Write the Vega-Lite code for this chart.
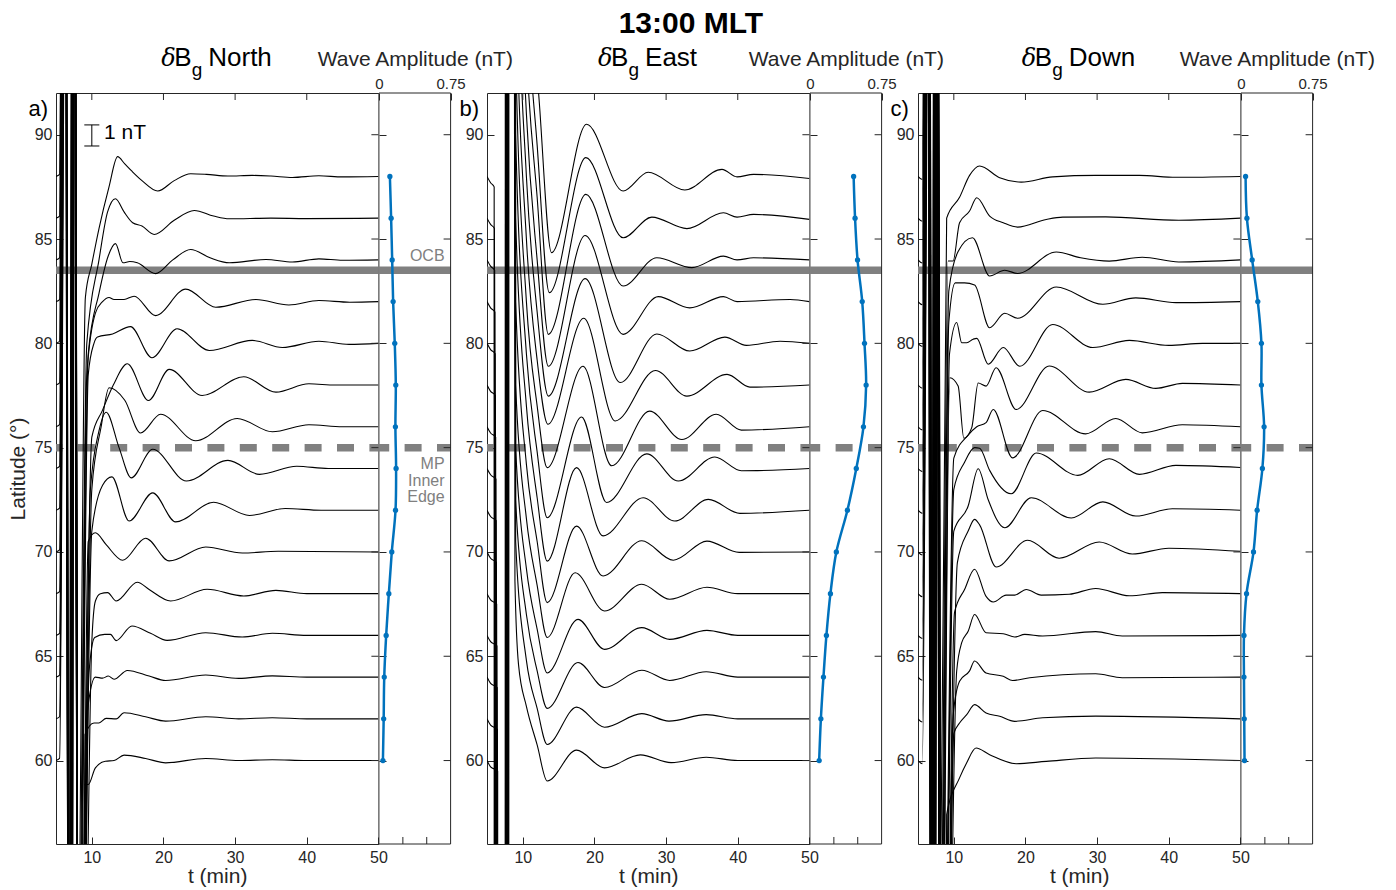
{
"$schema": "https://vega.github.io/schema/vega-lite/v6.json",
"padding": {"left": 6, "top": 8, "right": 2, "bottom": 2},
"title": {"text": "13:00 MLT", "fontSize": 30, "fontWeight": "bold", "color": "black", "anchor": "middle", "offset": 6, "font": "Liberation Sans"},
"bounds": "flush",
"spacing": 0,
"datasets": {
"xt": [{"t":10},{"t":20},{"t":30},{"t":40}],
"yt": [{"lat":60},{"lat":65},{"lat":70},{"lat":75},{"lat":80},{"lat":85},{"lat":90}],
"at": [{"a":0.25},{"a":0.5}],
"tr": [
{"p":"a","lat":88,"t":[5,5.5,6.1,6.75,7.4,8.0,9.1,10,11,12.4,13.6,14.6,15.6,17.0,19.2,21.5,23.8,26,29,32.4,35,38,41.7,45,50],"v":[88,88.1,133,43,128,48,82.2,83.8,85.5,87.5,88.95,88.6,88.25,87.8,87.3,87.8,88.13,88.1,88.02,88.05,88.02,87.95,88.03,87.98,88]},
{"p":"a","lat":86,"t":[5,5.5,6.12,6.77,7.42,8.02,9.3,11,12.2,13.3,14.5,15.7,17,18.7,21.5,24.3,27,29.2,35,40,50],"v":[86,86.1,131,41,126,46,80,84,86.3,86.93,86.3,85.78,85.62,85.22,85.9,86.37,86.1,85.97,86,85.98,86]},
{"p":"a","lat":84,"t":[5,5.5,6.14,6.79,7.44,8.04,9.5,11,12.3,13.3,14.35,15.3,16.35,18.9,21.3,23.8,26.5,29.2,34.3,38,41.7,45,50],"v":[84,84.1,129,39,124,44,79.5,82.4,84.2,84.78,83.86,83.92,83.86,83.34,84,84.5,84.1,83.86,84.02,83.9,84.05,83.98,84]},
{"p":"a","lat":82,"t":[5,5.5,6.16,6.81,7.46,8.06,9.3,10.5,11.5,12.4,13.1,14.5,15.9,18.9,23.1,27.3,32.9,37.5,41.7,46,50],"v":[82,82.1,127,37,122,42,78.5,81.45,82,82.2,82.1,82.1,82.26,81.33,82.6,81.73,82.1,81.84,82.05,81.97,82]},
{"p":"a","lat":80,"t":[5,5.5,6.18,6.83,7.48,8.08,9.5,10.3,10.8,12.9,15.4,18.4,21.9,26.4,32.4,36.6,41.7,45.9,50],"v":[80,80.1,125,35,120,40,78.5,80,80.3,80.45,80.8,79.31,80.7,79.66,80.14,79.8,80.1,79.95,80]},
{"p":"a","lat":78,"t":[5,5.5,6.2,6.85,7.5,8.1,10,11.5,13,14.96,17.9,20.8,25.4,31.2,35.7,40.3,44,50],"v":[78,78.1,123,33,118,38,75.5,76.8,78,79.02,77.26,78.75,77.5,78.4,77.66,78.06,78,78]},
{"p":"a","lat":76,"t":[5,5.5,6.22,6.87,7.52,8.12,10,11.3,12.4,14.6,16.8,19.6,24.5,30.3,35.2,40.3,45,50],"v":[76,76.1,121,31,116,36,73,76,77.87,77.27,75.7,76.6,75.33,76.4,75.76,76.1,76,76]},
{"p":"a","lat":74,"t":[5,5.5,6.24,6.89,7.54,8.14,9.8,11,12,13.8,15.5,18.5,23.2,29,33.4,38.6,43,50],"v":[74,74.1,119,29,114,34,73,75.8,76.7,75,73.55,74.92,73.4,74.39,73.72,74.11,74,74]},
{"p":"a","lat":72,"t":[5,5.5,6.26,6.91,7.56,8.16,10,11.5,12.8,15.2,18.5,21.7,27,32,37,42,50],"v":[72,72.1,117,27,112,32,71,73.2,73.6,71.48,72.83,71.44,72.38,71.75,72.08,72,72]},
{"p":"a","lat":70,"t":[5,5.5,6.28,6.93,7.58,8.18,9.5,10.5,12,14.3,17.5,20.8,25.9,31,36,50],"v":[70,70.1,115,25,110,30,70.5,70.92,70.35,69.6,70.66,69.57,70.24,69.95,70.03,70]},
{"p":"a","lat":68,"t":[5,5.5,6.3,6.95,7.6,8.2,10,10.5,11.2,12.2,13.4,16.35,18,21,26.1,31.2,35.7,40,50],"v":[68,68.1,113,23,108,28,65.7,67.65,68,68.05,67.65,68.55,68.2,67.65,68.21,67.89,68.16,68,68]},
{"p":"a","lat":66,"t":[5,5.5,6.32,6.97,7.62,8.22,9.6,10.4,11.8,12.6,13.4,15.6,18.2,20.5,25.9,31,35.2,40,50],"v":[66,66.1,111,21,106,26,64.2,65.9,66.05,66.05,65.75,66.45,66.1,65.76,66.13,65.92,66.1,66,66]},
{"p":"a","lat":64,"t":[5,5.5,6.34,6.99,7.64,8.24,9.4,10.5,11.5,12.3,13.1,14.96,18,20.3,25.9,30.5,35.2,40,50],"v":[64,64.1,109,19,104,24,62.4,64,63.95,64.05,63.9,64.32,64.05,63.84,64.1,63.94,64.06,64,64]},
{"p":"a","lat":62,"t":[5,5.5,6.36,7.01,7.66,8.26,9.05,10.3,11,12,13.4,14.5,17.5,20.3,25.9,30.5,35.2,40,50],"v":[62,62.1,107,17,102,22,61.25,61.8,61.8,62.02,62,62.29,62.1,61.89,62.1,62,62.05,62,62]},
{"p":"a","lat":60,"t":[5,5.5,6.38,7.03,7.68,8.28,9.0,9.5,10.5,11.9,13.1,14.5,17.5,20.3,25.9,30.5,35.2,40,50],"v":[60,60.1,105,15,100,20,58.85,58.85,59.65,59.97,60,60.26,60.1,59.89,60.1,60,60.04,60,60]},
{"p":"b","lat":88,"t":[5,5.5,6.0,6.1,7.5,7.6,9.0,10.5,12.2,14.0,18.9,24.0,27.5,32.6,37.8,39.9,42.2,50],"v":[88,87.7,87.5,-212,-212,388,118,99,92,84.35,90.5,87.3,88.2,87.35,88.34,87.98,88.1,87.9]},
{"p":"b","lat":86,"t":[5,5.5,6.035,6.135,7.535,7.635,9.0,10.5,12.0,13.7,18.8,24.0,28.0,32.9,38.0,39.9,42.2,50],"v":[86,85.7,85.5,-214,-214,386,114,97,89.5,82.43,88.9,85.06,86.05,85.5,86.26,86.05,86.18,85.94]},
{"p":"b","lat":84,"t":[5,5.5,6.07,6.17,7.57,7.67,9.0,10.5,12.0,13.56,18.8,24.0,28.7,33.6,38.0,39.9,42.2,50],"v":[84,83.7,83.5,-216,-216,384,110,94,87,80.43,87.14,82.75,84.1,83.63,84.18,84,84.1,84]},
{"p":"b","lat":82,"t":[5,5.5,6.105,6.205,7.605,7.705,9.0,10.5,12.0,13.56,18.7,24.0,28.9,33.3,38.0,39.9,47.3,50],"v":[82,81.7,81.5,-218,-218,382,106,91,84,78.9,85.17,80.43,82.24,81.7,82.24,82,82.1,82]},
{"p":"b","lat":80,"t":[5,5.5,6.14,6.24,7.64,7.74,9.0,10.5,12.0,13.56,18.7,23.6,28.7,33.3,38.2,41.2,45.9,50],"v":[80,79.7,79.5,-220,-220,380,102,88,81.5,77.47,83.1,78.12,80.45,79.63,80.3,79.9,80.1,80]},
{"p":"b","lat":78,"t":[5,5.5,6.175,6.275,7.675,7.775,9.0,10.5,12.0,13.5,18.5,22.9,28.5,32.9,38.5,41.7,50],"v":[78,77.7,77.5,-222,-222,378,98,85,79.2,76.12,81.2,76.28,78.7,77.47,78.51,77.9,78]},
{"p":"b","lat":76,"t":[5,5.5,6.21,6.31,7.71,7.81,9.0,10.5,12.0,13.4,18.4,22.4,27.7,32.2,37.0,40.5,50],"v":[76,75.7,75.5,-224,-224,376,94,82,77,74.04,78.9,74.13,76.75,75.39,76.6,75.84,76]},
{"p":"b","lat":74,"t":[5,5.5,6.245,6.345,7.745,7.845,9.0,10.5,12.0,13.4,18.2,21.7,27.3,31.7,36.8,40.5,50],"v":[74,73.7,73.5,-226,-226,374,90,79.5,74.8,71.64,76.47,72.37,74.7,73.4,74.55,73.89,74]},
{"p":"b","lat":72,"t":[5,5.5,6.28,6.38,7.78,7.88,9.0,10.5,12.0,13.4,17.5,21.2,26.8,31.2,35.9,40.3,50],"v":[72,71.7,71.5,-228,-228,372,86,77,72.6,69.56,74.04,70.77,72.6,71.48,72.52,71.85,72]},
{"p":"b","lat":70,"t":[5,5.5,6.315,6.415,7.815,7.915,9.0,10.5,12.0,13.4,17.5,21.2,26.6,31.0,35.7,40.2,50],"v":[70,69.7,69.5,-230,-230,370,82,74.2,70.5,67.57,71.24,68.85,70.54,69.6,70.52,69.98,70]},
{"p":"b","lat":68,"t":[5,5.5,6.35,6.45,7.85,7.95,9.0,10.5,12.0,13.4,17.3,21.4,26.6,30.5,35.7,40,50],"v":[68,67.7,67.5,-232,-232,368,78,71.6,68.4,65.9,69.0,67.17,68.45,67.73,68.31,68,68]},
{"p":"b","lat":66,"t":[5,5.5,6.385,6.485,7.885,7.985,9.0,10.5,12.0,13.4,17.7,21.4,26.6,30.5,35.7,40,50],"v":[66,65.7,65.5,-234,-234,366,75,69.2,66.3,64.2,66.77,65.33,66.37,65.81,66.24,66,66]},
{"p":"b","lat":64,"t":[5,5.5,6.42,6.52,7.92,8.02,9.0,10.5,12.0,13.4,17.7,21.4,26.6,30.5,35.6,40,50],"v":[64,63.7,63.5,-236,-236,364,72.5,67,64.3,62.5,64.7,63.5,64.33,63.84,64.26,64,64]},
{"p":"b","lat":62,"t":[5,5.5,6.455,6.555,7.955,8.055,9.0,10.5,12.0,13.4,17.5,21.4,26.6,30.4,35.6,40,50],"v":[62,61.7,61.5,-238,-238,362,70.5,64.8,62.5,60.77,62.56,61.6,62.25,61.89,62.2,62,62]},
{"p":"b","lat":60,"t":[5,5.5,6.49,6.59,7.99,8.09,8.9,9.4,10.5,12.0,13.4,17.5,21.4,26.4,30.7,35.6,40,50],"v":[60,59.7,59.5,-240,-240,360,68.6,64.6,62.6,60.75,59.02,60.5,59.65,60.27,59.9,60.16,60,60]},
{"p":"c","lat":88,"t":[5,5.6,6.2,6.8,7.4,8.0,9.0,10.8,12.2,13.6,16.4,19.4,23.8,29.8,35.9,41,50],"v":[88,87.85,133,43,128,48,86,87,88.05,88.5,87.94,87.73,87.98,88.05,88.05,87.96,88]},
{"p":"c","lat":86,"t":[5,5.6,6.23,6.83,7.43,8.03,9.2,9.9,10.8,12.2,13.2,15.0,16.9,18.9,22.9,25.2,31.2,41.4,50],"v":[86,85.85,131,41,126,46,83.95,83.95,85.78,86.34,86.98,86.1,85.78,85.57,85.94,86.05,86.06,85.9,86]},
{"p":"c","lat":84,"t":[5,5.6,6.26,6.86,7.46,8.06,9.3,10.6,12.6,15.0,17.1,18.9,24.3,27.7,31.7,36.3,41.4,50],"v":[84,83.85,129,39,124,44,82.5,84.4,85.06,83.23,83.5,83.35,84.38,84.1,83.94,84.13,83.9,84]},
{"p":"c","lat":82,"t":[5,5.6,6.29,6.89,7.49,8.09,9.3,10.2,10.6,11.5,12.9,15.0,17.1,18.9,24.3,30.8,35.4,41,50],"v":[82,81.85,127,37,122,42,81,82.9,82.9,82.9,82.8,80.75,81.44,81.2,82.7,81.87,82.18,81.95,82]},
{"p":"c","lat":80,"t":[5,5.6,6.32,6.92,7.52,8.12,9.4,10.4,11.1,11.8,12.7,13.2,14.8,16.9,19.2,23.8,29.4,34.5,40,44.7,50],"v":[80,79.85,125,35,120,40,79.5,81.0,80.03,80.03,80.2,80.24,79.0,79.8,78.9,80.9,79.8,80.14,79.9,80.0,80]},
{"p":"c","lat":78,"t":[5,5.6,6.35,6.95,7.55,8.15,9.44,10.6,11.4,12.5,13.4,14.5,15.9,18.7,23.3,28.9,34.0,38.2,41.9,50],"v":[78,77.85,123,33,118,38,78.35,77.95,75.45,75.96,78.1,77.95,78.83,76.83,78.91,77.66,78.27,77.84,78.08,78]},
{"p":"c","lat":76,"t":[5,5.6,6.38,6.98,7.58,8.18,10.0,12.0,13.2,14.5,15.5,18.2,22.4,28.4,32.6,36.3,41.9,50],"v":[76,75.85,121,31,116,36,74.5,75.6,76.0,76.2,76.83,74.51,76.78,75.66,76.4,75.71,76.1,76]},
{"p":"c","lat":74,"t":[5,5.6,6.41,7.01,7.61,8.21,10.0,11.5,12.9,13.6,15.0,18.0,21.5,27.3,31.7,35.9,41.0,50],"v":[74,73.85,119,29,114,34,73.0,74.3,75.0,74.97,73.91,72.79,74.74,73.67,74.47,73.72,74.15,74.05]},
{"p":"c","lat":72,"t":[5,5.6,6.44,7.04,7.64,8.24,10.0,12.0,13.4,14.8,17.1,20.8,26.4,30.8,35.4,40.5,50],"v":[72,71.85,117,27,112,32,71.0,72.2,73.99,72.5,71.16,72.6,71.63,72.4,71.72,72.07,72]},
{"p":"c","lat":70,"t":[5,5.6,6.47,7.07,7.67,8.27,10.5,12.0,12.9,13.6,15.9,20.3,24.7,30.3,34.9,40.0,50],"v":[70,69.85,115,25,110,30,69.5,71.0,71.56,71.3,69.28,70.56,69.7,70.48,69.9,70.18,70.03]},
{"p":"c","lat":68,"t":[5,5.6,6.5,7.1,7.7,8.3,10.1,11.5,12.9,14.5,15.5,17.3,18.5,20.1,22.2,26.1,29.8,34.5,39.1,50],"v":[68,67.85,113,23,108,28,67.1,68.2,69.17,67.87,67.6,67.93,67.93,68.2,67.93,67.97,68.25,67.9,68.05,68]},
{"p":"c","lat":66,"t":[5,5.6,6.53,7.13,7.73,8.33,10.4,11.1,12.0,12.9,14.5,16.9,18.5,19.9,22.4,29.8,33.5,50],"v":[66,65.85,111,21,106,26,64.29,65.65,66.2,67.0,66.13,66.08,65.92,66.05,65.97,66.18,65.97,66]},
{"p":"c","lat":64,"t":[5,5.6,6.56,7.16,7.76,8.36,9.9,10.8,12.2,12.9,14.5,16.9,18.2,20.6,29.8,33.5,50],"v":[64,63.85,109,19,104,24,62.13,63.8,64.3,64.77,64.2,64.04,63.84,63.97,64.16,63.97,64]},
{"p":"c","lat":62,"t":[5,5.6,6.59,7.19,7.79,8.39,10.0,10.8,11.8,12.9,14.5,16.4,18.5,22.4,29.8,50],"v":[62,61.85,107,17,102,22,61.3,61.8,62.2,62.68,62.28,62.12,61.88,62.05,62.13,62]},
{"p":"c","lat":60,"t":[5,5.6,6.62,7.22,7.82,8.42,9.0,10.8,11.8,13.1,15.0,18.7,22.9,29.8,50],"v":[60,59.85,105,15,100,20,57.41,59.17,59.9,60.6,60.28,59.85,59.96,60.12,60]}
],
"amp": [
{"p":"a","lat":60,"a":0.041},{"p":"a","lat":62,"a":0.049},{"p":"a","lat":64,"a":0.055},{"p":"a","lat":66,"a":0.075},{"p":"a","lat":68,"a":0.103},{"p":"a","lat":70,"a":0.134},{"p":"a","lat":72,"a":0.173},{"p":"a","lat":74,"a":0.179},{"p":"a","lat":76,"a":0.172},{"p":"a","lat":78,"a":0.176},{"p":"a","lat":80,"a":0.165},{"p":"a","lat":82,"a":0.148},{"p":"a","lat":84,"a":0.138},{"p":"a","lat":86,"a":0.127},{"p":"a","lat":88,"a":0.114},
{"p":"b","lat":60,"a":0.096},{"p":"b","lat":62,"a":0.114},{"p":"b","lat":64,"a":0.141},{"p":"b","lat":66,"a":0.172},{"p":"b","lat":68,"a":0.214},{"p":"b","lat":70,"a":0.276},{"p":"b","lat":72,"a":0.392},{"p":"b","lat":74,"a":0.485},{"p":"b","lat":76,"a":0.56},{"p":"b","lat":78,"a":0.588},{"p":"b","lat":80,"a":0.571},{"p":"b","lat":82,"a":0.547},{"p":"b","lat":84,"a":0.498},{"p":"b","lat":86,"a":0.472},{"p":"b","lat":88,"a":0.457},
{"p":"c","lat":60,"a":0.037},{"p":"c","lat":62,"a":0.034},{"p":"c","lat":64,"a":0.031},{"p":"c","lat":66,"a":0.031},{"p":"c","lat":68,"a":0.058},{"p":"c","lat":70,"a":0.131},{"p":"c","lat":72,"a":0.169},{"p":"c","lat":74,"a":0.224},{"p":"c","lat":76,"a":0.242},{"p":"c","lat":78,"a":0.214},{"p":"c","lat":80,"a":0.214},{"p":"c","lat":82,"a":0.176},{"p":"c","lat":84,"a":0.117},{"p":"c","lat":86,"a":0.062},{"p":"c","lat":88,"a":0.048}
]
},
"hconcat": [
{
"width": 322.4, "height": 751,
"layer": [
{"data": {"values": [{}]}, "mark": {"type": "rule", "color": "#808080", "strokeWidth": 7.5},
 "encoding": {"y": {"datum": 83.5, "type": "quantitative", "scale": {"domain": [56, 92], "nice": false, "zero": false}}}},
{"data": {"values": [{}]}, "mark": {"type": "rule", "color": "#808080", "strokeWidth": 7.5, "strokeDash": [17, 15.4], "strokeDashOffset": 8},
 "encoding": {"y": {"datum": 75, "type": "quantitative", "scale": {"domain": [56, 92], "nice": false, "zero": false}}}},
{"data": {"name": "tr"}, "transform": [{"filter": "datum.p == 'a'"}, {"flatten": ["t", "v"]}],
 "mark": {"type": "line", "interpolate": "monotone", "clip": true, "color": "black", "strokeWidth": 1.1},
 "encoding": {
  "x": {"field": "t", "type": "quantitative", "scale": {"domain": [5, 50], "nice": false, "zero": false}, "axis": {"values": [10,20,30,40,50], "tickSize": -7, "labelPadding": 12, "title": "t (min)", "titleY": 38.5, "titleBaseline": "alphabetic"}},
  "y": {"field": "v", "type": "quantitative", "scale": {"domain": [56, 92], "nice": false, "zero": false}, "axis": {"values": [60,65,70,75,80,85,90], "tickSize": -7, "labelPadding": 11, "title": "Latitude (°)", "titlePadding": 6}},
  "detail": {"field": "lat", "type": "nominal"}}},
{"data": {"name": "xt"}, "mark": {"type": "rule", "color": "#262626", "strokeWidth": 1},
 "encoding": {"x": {"field": "t", "type": "quantitative", "scale": {"domain": [5, 50], "nice": false, "zero": false}}, "y": {"datum": 92, "type": "quantitative", "scale": {"domain": [56, 92], "nice": false, "zero": false}}, "y2": {"datum": 91.664}}},
{"data": {"name": "yt"}, "mark": {"type": "rule", "color": "#262626", "strokeWidth": 1},
 "encoding": {"y": {"field": "lat", "type": "quantitative", "scale": {"domain": [56, 92], "nice": false, "zero": false}}, "x": {"datum": 50, "type": "quantitative", "scale": {"domain": [5, 50], "nice": false, "zero": false}}, "x2": {"datum": 49.023}}},
{"data": {"values": [{}]}, "mark": {"type": "text", "text": "a)", "fontSize": 22, "align": "left", "baseline": "middle", "color": "black"},
 "encoding": {"x": {"datum": 1.15, "type": "quantitative", "scale": {"domain": [5, 50], "nice": false, "zero": false}}, "y": {"datum": 91.25, "type": "quantitative", "scale": {"domain": [56, 92], "nice": false, "zero": false}}}},
{"data": {"values": [{}]}, "mark": {"type": "text", "text": "δ", "font": "DejaVu Serif", "fontStyle": "italic", "fontSize": 24, "align": "left", "baseline": "alphabetic", "color": "black"},
 "encoding": {"x": {"datum": 19.69, "type": "quantitative", "scale": {"domain": [5, 50], "nice": false, "zero": false}}, "y": {"datum": 93.29, "type": "quantitative", "scale": {"domain": [56, 92], "nice": false, "zero": false}}}},
{"data": {"values": [{}]}, "mark": {"type": "text", "text": "B", "fontSize": 26, "align": "left", "baseline": "alphabetic", "color": "black"},
 "encoding": {"x": {"datum": 21.5, "type": "quantitative", "scale": {"domain": [5, 50], "nice": false, "zero": false}}, "y": {"datum": 93.29, "type": "quantitative", "scale": {"domain": [56, 92], "nice": false, "zero": false}}}},
{"data": {"values": [{}]}, "mark": {"type": "text", "text": "g", "fontSize": 19, "align": "left", "baseline": "alphabetic", "color": "black"},
 "encoding": {"x": {"datum": 23.94, "type": "quantitative", "scale": {"domain": [5, 50], "nice": false, "zero": false}}, "y": {"datum": 92.82, "type": "quantitative", "scale": {"domain": [56, 92], "nice": false, "zero": false}}}},
{"data": {"values": [{}]}, "mark": {"type": "text", "text": "North", "fontSize": 26, "align": "left", "baseline": "alphabetic", "color": "black"},
 "encoding": {"x": {"datum": 26.25, "type": "quantitative", "scale": {"domain": [5, 50], "nice": false, "zero": false}}, "y": {"datum": 93.29, "type": "quantitative", "scale": {"domain": [56, 92], "nice": false, "zero": false}}}},
{"data": {"values": [{}]}, "mark": {"type": "rule", "color": "black", "strokeWidth": 1},
 "encoding": {"x": {"datum": 10, "type": "quantitative", "scale": {"domain": [5, 50], "nice": false, "zero": false}}, "y": {"datum": 89.46, "type": "quantitative", "scale": {"domain": [56, 92], "nice": false, "zero": false}}, "y2": {"datum": 90.47}}},
{"data": {"values": [{}]}, "mark": {"type": "rule", "color": "black", "strokeWidth": 1},
 "encoding": {"x": {"datum": 8.95, "type": "quantitative", "scale": {"domain": [5, 50], "nice": false, "zero": false}}, "x2": {"datum": 11.05}, "y": {"datum": 90.47, "type": "quantitative", "scale": {"domain": [56, 92], "nice": false, "zero": false}}}},
{"data": {"values": [{}]}, "mark": {"type": "rule", "color": "black", "strokeWidth": 1},
 "encoding": {"x": {"datum": 8.95, "type": "quantitative", "scale": {"domain": [5, 50], "nice": false, "zero": false}}, "x2": {"datum": 11.05}, "y": {"datum": 89.46, "type": "quantitative", "scale": {"domain": [56, 92], "nice": false, "zero": false}}}},
{"data": {"values": [{}]}, "mark": {"type": "text", "text": "1 nT", "fontSize": 21, "align": "left", "baseline": "middle", "color": "black"},
 "encoding": {"x": {"datum": 11.7, "type": "quantitative", "scale": {"domain": [5, 50], "nice": false, "zero": false}}, "y": {"datum": 90.06, "type": "quantitative", "scale": {"domain": [56, 92], "nice": false, "zero": false}}}}
]
},
{
"width": 107.6, "height": 751, "view": {"stroke": null},
"layer": [
{"data": {"values": [{}]}, "mark": {"type": "rule", "color": "#808080", "strokeWidth": 7.5},
 "encoding": {"x": {"datum": 0, "type": "quantitative", "scale": {"domain": [0, 1.1271], "nice": false, "zero": false}}, "x2": {"datum": 0.75}, "y": {"datum": 83.5, "type": "quantitative", "scale": {"domain": [56, 92], "nice": false, "zero": false}}}},
{"data": {"values": [{}]}, "mark": {"type": "rule", "color": "#808080", "strokeWidth": 7.5, "strokeDash": [17, 15.4], "strokeDashOffset": 6.8},
 "encoding": {"x": {"datum": 0, "type": "quantitative", "scale": {"domain": [0, 1.1271], "nice": false, "zero": false}}, "x2": {"datum": 0.75}, "y": {"datum": 75, "type": "quantitative", "scale": {"domain": [56, 92], "nice": false, "zero": false}}}},
{"data": {"name": "amp"}, "transform": [{"filter": "datum.p == 'a'"}],
 "mark": {"type": "line", "interpolate": "catmull-rom", "color": "#0072BD", "strokeWidth": 2.5},
 "encoding": {
  "x": {"field": "a", "type": "quantitative", "scale": {"domain": [0, 1.1271], "nice": false, "zero": false}, "axis": {"orient": "top", "values": [0, 0.25, 0.5, 0.75], "format": ".2~f", "labelExpr": "datum.value == 0 || datum.value == 0.75 ? datum.label : ''", "tickSize": -7, "labelPadding": 12, "labelFontSize": 15, "labelBaseline": "alphabetic", "title": "Wave Amplitude (nT)", "titleX": 35.8, "titleY": -27.5, "titleBaseline": "alphabetic", "titleAlign": "center"}},
  "y": {"field": "lat", "type": "quantitative", "scale": {"domain": [56, 92], "nice": false, "zero": false}, "axis": {"values": [60,65,70,75,80,85,90], "labels": false, "title": null, "tickSize": -7}},
  "order": {"field": "lat", "type": "quantitative"}}},
{"data": {"name": "amp"}, "transform": [{"filter": "datum.p == 'a'"}],
 "mark": {"type": "point", "filled": true, "size": 28, "color": "#0072BD", "opacity": 1},
 "encoding": {
  "x": {"field": "a", "type": "quantitative", "scale": {"domain": [0, 1.1271], "nice": false, "zero": false}},
  "y": {"field": "lat", "type": "quantitative", "scale": {"domain": [56, 92], "nice": false, "zero": false}}}},
{"data": {"name": "at"}, "mark": {"type": "rule", "color": "#262626", "strokeWidth": 1},
 "encoding": {"x": {"field": "a", "type": "quantitative", "scale": {"domain": [0, 1.1271], "nice": false, "zero": false}}, "y": {"datum": 56, "type": "quantitative", "scale": {"domain": [56, 92], "nice": false, "zero": false}}, "y2": {"datum": 56.336}}},
{"data": {"name": "yt"}, "mark": {"type": "rule", "color": "#262626", "strokeWidth": 1},
 "encoding": {"y": {"field": "lat", "type": "quantitative", "scale": {"domain": [56, 92], "nice": false, "zero": false}}, "x": {"datum": 0.75, "type": "quantitative", "scale": {"domain": [0, 1.1271], "nice": false, "zero": false}}, "x2": {"datum": 0.6767}}},
{"data": {"values": [{}]}, "mark": {"type": "rule", "color": "#262626", "strokeWidth": 1},
 "encoding": {"x": {"datum": 0, "type": "quantitative", "scale": {"domain": [0, 1.1271], "nice": false, "zero": false}}, "x2": {"datum": 0.75}, "y": {"datum": 92, "type": "quantitative", "scale": {"domain": [56, 92], "nice": false, "zero": false}}}},
{"data": {"values": [{}]}, "mark": {"type": "rule", "color": "#262626", "strokeWidth": 1},
 "encoding": {"x": {"datum": 0, "type": "quantitative", "scale": {"domain": [0, 1.1271], "nice": false, "zero": false}}, "x2": {"datum": 0.75}, "y": {"datum": 56, "type": "quantitative", "scale": {"domain": [56, 92], "nice": false, "zero": false}}}},
{"data": {"values": [{}]}, "mark": {"type": "rule", "color": "#262626", "strokeWidth": 1},
 "encoding": {"x": {"datum": 0.75, "type": "quantitative", "scale": {"domain": [0, 1.1271], "nice": false, "zero": false}}}},
{"data": {"values": [{}]}, "mark": {"type": "text", "text": "OCB", "fontSize": 16, "align": "right", "baseline": "middle", "color": "#808080"},
 "encoding": {"x": {"datum": 0.687, "type": "quantitative", "scale": {"domain": [0, 1.1271], "nice": false, "zero": false}}, "y": {"datum": 84.19, "type": "quantitative", "scale": {"domain": [56, 92], "nice": false, "zero": false}}}},
{"data": {"values": [{}]}, "mark": {"type": "text", "text": ["MP", "Inner", "Edge"], "lineHeight": 16.5, "fontSize": 16, "align": "right", "baseline": "middle", "color": "#808080"},
 "encoding": {"x": {"datum": 0.687, "type": "quantitative", "scale": {"domain": [0, 1.1271], "nice": false, "zero": false}}, "y": {"datum": 74.21, "type": "quantitative", "scale": {"domain": [56, 92], "nice": false, "zero": false}}}}
]
},
{
"width": 322.4, "height": 751,
"layer": [
{"data": {"values": [{}]}, "mark": {"type": "rule", "color": "#808080", "strokeWidth": 7.5},
 "encoding": {"y": {"datum": 83.5, "type": "quantitative", "scale": {"domain": [56, 92], "nice": false, "zero": false}}}},
{"data": {"values": [{}]}, "mark": {"type": "rule", "color": "#808080", "strokeWidth": 7.5, "strokeDash": [17, 15.4], "strokeDashOffset": 8},
 "encoding": {"y": {"datum": 75, "type": "quantitative", "scale": {"domain": [56, 92], "nice": false, "zero": false}}}},
{"data": {"name": "tr"}, "transform": [{"filter": "datum.p == 'b'"}, {"flatten": ["t", "v"]}],
 "mark": {"type": "line", "interpolate": "monotone", "clip": true, "color": "black", "strokeWidth": 1.1},
 "encoding": {
  "x": {"field": "t", "type": "quantitative", "scale": {"domain": [5, 50], "nice": false, "zero": false}, "axis": {"values": [10,20,30,40,50], "tickSize": -7, "labelPadding": 12, "title": "t (min)", "titleY": 38.5, "titleBaseline": "alphabetic"}},
  "y": {"field": "v", "type": "quantitative", "scale": {"domain": [56, 92], "nice": false, "zero": false}, "axis": {"values": [60,65,70,75,80,85,90], "tickSize": -7, "labelPadding": 11, "title": null}},
  "detail": {"field": "lat", "type": "nominal"}}},
{"data": {"name": "xt"}, "mark": {"type": "rule", "color": "#262626", "strokeWidth": 1},
 "encoding": {"x": {"field": "t", "type": "quantitative", "scale": {"domain": [5, 50], "nice": false, "zero": false}}, "y": {"datum": 92, "type": "quantitative", "scale": {"domain": [56, 92], "nice": false, "zero": false}}, "y2": {"datum": 91.664}}},
{"data": {"name": "yt"}, "mark": {"type": "rule", "color": "#262626", "strokeWidth": 1},
 "encoding": {"y": {"field": "lat", "type": "quantitative", "scale": {"domain": [56, 92], "nice": false, "zero": false}}, "x": {"datum": 50, "type": "quantitative", "scale": {"domain": [5, 50], "nice": false, "zero": false}}, "x2": {"datum": 49.023}}},
{"data": {"values": [{}]}, "mark": {"type": "text", "text": "b)", "fontSize": 22, "align": "left", "baseline": "middle", "color": "black"},
 "encoding": {"x": {"datum": 1.15, "type": "quantitative", "scale": {"domain": [5, 50], "nice": false, "zero": false}}, "y": {"datum": 91.25, "type": "quantitative", "scale": {"domain": [56, 92], "nice": false, "zero": false}}}},
{"data": {"values": [{}]}, "mark": {"type": "text", "text": "δ", "font": "DejaVu Serif", "fontStyle": "italic", "fontSize": 24, "align": "left", "baseline": "alphabetic", "color": "black"},
 "encoding": {"x": {"datum": 20.5, "type": "quantitative", "scale": {"domain": [5, 50], "nice": false, "zero": false}}, "y": {"datum": 93.29, "type": "quantitative", "scale": {"domain": [56, 92], "nice": false, "zero": false}}}},
{"data": {"values": [{}]}, "mark": {"type": "text", "text": "B", "fontSize": 26, "align": "left", "baseline": "alphabetic", "color": "black"},
 "encoding": {"x": {"datum": 22.31, "type": "quantitative", "scale": {"domain": [5, 50], "nice": false, "zero": false}}, "y": {"datum": 93.29, "type": "quantitative", "scale": {"domain": [56, 92], "nice": false, "zero": false}}}},
{"data": {"values": [{}]}, "mark": {"type": "text", "text": "g", "fontSize": 19, "align": "left", "baseline": "alphabetic", "color": "black"},
 "encoding": {"x": {"datum": 24.75, "type": "quantitative", "scale": {"domain": [5, 50], "nice": false, "zero": false}}, "y": {"datum": 92.82, "type": "quantitative", "scale": {"domain": [56, 92], "nice": false, "zero": false}}}},
{"data": {"values": [{}]}, "mark": {"type": "text", "text": "East", "fontSize": 26, "align": "left", "baseline": "alphabetic", "color": "black"},
 "encoding": {"x": {"datum": 27.06, "type": "quantitative", "scale": {"domain": [5, 50], "nice": false, "zero": false}}, "y": {"datum": 93.29, "type": "quantitative", "scale": {"domain": [56, 92], "nice": false, "zero": false}}}}
]
},
{
"width": 107.6, "height": 751, "view": {"stroke": null},
"layer": [
{"data": {"values": [{}]}, "mark": {"type": "rule", "color": "#808080", "strokeWidth": 7.5},
 "encoding": {"x": {"datum": 0, "type": "quantitative", "scale": {"domain": [0, 1.1271], "nice": false, "zero": false}}, "x2": {"datum": 0.75}, "y": {"datum": 83.5, "type": "quantitative", "scale": {"domain": [56, 92], "nice": false, "zero": false}}}},
{"data": {"values": [{}]}, "mark": {"type": "rule", "color": "#808080", "strokeWidth": 7.5, "strokeDash": [17, 15.4], "strokeDashOffset": 6.8},
 "encoding": {"x": {"datum": 0, "type": "quantitative", "scale": {"domain": [0, 1.1271], "nice": false, "zero": false}}, "x2": {"datum": 0.75}, "y": {"datum": 75, "type": "quantitative", "scale": {"domain": [56, 92], "nice": false, "zero": false}}}},
{"data": {"name": "amp"}, "transform": [{"filter": "datum.p == 'b'"}],
 "mark": {"type": "line", "interpolate": "catmull-rom", "color": "#0072BD", "strokeWidth": 2.5},
 "encoding": {
  "x": {"field": "a", "type": "quantitative", "scale": {"domain": [0, 1.1271], "nice": false, "zero": false}, "axis": {"orient": "top", "values": [0, 0.25, 0.5, 0.75], "format": ".2~f", "labelExpr": "datum.value == 0 || datum.value == 0.75 ? datum.label : ''", "tickSize": -7, "labelPadding": 12, "labelFontSize": 15, "labelBaseline": "alphabetic", "title": "Wave Amplitude (nT)", "titleX": 35.8, "titleY": -27.5, "titleBaseline": "alphabetic", "titleAlign": "center"}},
  "y": {"field": "lat", "type": "quantitative", "scale": {"domain": [56, 92], "nice": false, "zero": false}, "axis": {"values": [60,65,70,75,80,85,90], "labels": false, "title": null, "tickSize": -7}},
  "order": {"field": "lat", "type": "quantitative"}}},
{"data": {"name": "amp"}, "transform": [{"filter": "datum.p == 'b'"}],
 "mark": {"type": "point", "filled": true, "size": 28, "color": "#0072BD", "opacity": 1},
 "encoding": {
  "x": {"field": "a", "type": "quantitative", "scale": {"domain": [0, 1.1271], "nice": false, "zero": false}},
  "y": {"field": "lat", "type": "quantitative", "scale": {"domain": [56, 92], "nice": false, "zero": false}}}},
{"data": {"name": "at"}, "mark": {"type": "rule", "color": "#262626", "strokeWidth": 1},
 "encoding": {"x": {"field": "a", "type": "quantitative", "scale": {"domain": [0, 1.1271], "nice": false, "zero": false}}, "y": {"datum": 56, "type": "quantitative", "scale": {"domain": [56, 92], "nice": false, "zero": false}}, "y2": {"datum": 56.336}}},
{"data": {"name": "yt"}, "mark": {"type": "rule", "color": "#262626", "strokeWidth": 1},
 "encoding": {"y": {"field": "lat", "type": "quantitative", "scale": {"domain": [56, 92], "nice": false, "zero": false}}, "x": {"datum": 0.75, "type": "quantitative", "scale": {"domain": [0, 1.1271], "nice": false, "zero": false}}, "x2": {"datum": 0.6767}}},
{"data": {"values": [{}]}, "mark": {"type": "rule", "color": "#262626", "strokeWidth": 1},
 "encoding": {"x": {"datum": 0, "type": "quantitative", "scale": {"domain": [0, 1.1271], "nice": false, "zero": false}}, "x2": {"datum": 0.75}, "y": {"datum": 92, "type": "quantitative", "scale": {"domain": [56, 92], "nice": false, "zero": false}}}},
{"data": {"values": [{}]}, "mark": {"type": "rule", "color": "#262626", "strokeWidth": 1},
 "encoding": {"x": {"datum": 0, "type": "quantitative", "scale": {"domain": [0, 1.1271], "nice": false, "zero": false}}, "x2": {"datum": 0.75}, "y": {"datum": 56, "type": "quantitative", "scale": {"domain": [56, 92], "nice": false, "zero": false}}}},
{"data": {"values": [{}]}, "mark": {"type": "rule", "color": "#262626", "strokeWidth": 1},
 "encoding": {"x": {"datum": 0.75, "type": "quantitative", "scale": {"domain": [0, 1.1271], "nice": false, "zero": false}}}}
]
},
{
"width": 322.4, "height": 751,
"layer": [
{"data": {"values": [{}]}, "mark": {"type": "rule", "color": "#808080", "strokeWidth": 7.5},
 "encoding": {"y": {"datum": 83.5, "type": "quantitative", "scale": {"domain": [56, 92], "nice": false, "zero": false}}}},
{"data": {"values": [{}]}, "mark": {"type": "rule", "color": "#808080", "strokeWidth": 7.5, "strokeDash": [17, 15.4], "strokeDashOffset": 8},
 "encoding": {"y": {"datum": 75, "type": "quantitative", "scale": {"domain": [56, 92], "nice": false, "zero": false}}}},
{"data": {"name": "tr"}, "transform": [{"filter": "datum.p == 'c'"}, {"flatten": ["t", "v"]}],
 "mark": {"type": "line", "interpolate": "monotone", "clip": true, "color": "black", "strokeWidth": 1.1},
 "encoding": {
  "x": {"field": "t", "type": "quantitative", "scale": {"domain": [5, 50], "nice": false, "zero": false}, "axis": {"values": [10,20,30,40,50], "tickSize": -7, "labelPadding": 12, "title": "t (min)", "titleY": 38.5, "titleBaseline": "alphabetic"}},
  "y": {"field": "v", "type": "quantitative", "scale": {"domain": [56, 92], "nice": false, "zero": false}, "axis": {"values": [60,65,70,75,80,85,90], "tickSize": -7, "labelPadding": 11, "title": null}},
  "detail": {"field": "lat", "type": "nominal"}}},
{"data": {"name": "xt"}, "mark": {"type": "rule", "color": "#262626", "strokeWidth": 1},
 "encoding": {"x": {"field": "t", "type": "quantitative", "scale": {"domain": [5, 50], "nice": false, "zero": false}}, "y": {"datum": 92, "type": "quantitative", "scale": {"domain": [56, 92], "nice": false, "zero": false}}, "y2": {"datum": 91.664}}},
{"data": {"name": "yt"}, "mark": {"type": "rule", "color": "#262626", "strokeWidth": 1},
 "encoding": {"y": {"field": "lat", "type": "quantitative", "scale": {"domain": [56, 92], "nice": false, "zero": false}}, "x": {"datum": 50, "type": "quantitative", "scale": {"domain": [5, 50], "nice": false, "zero": false}}, "x2": {"datum": 49.023}}},
{"data": {"values": [{}]}, "mark": {"type": "text", "text": "c)", "fontSize": 22, "align": "left", "baseline": "middle", "color": "black"},
 "encoding": {"x": {"datum": 1.15, "type": "quantitative", "scale": {"domain": [5, 50], "nice": false, "zero": false}}, "y": {"datum": 91.25, "type": "quantitative", "scale": {"domain": [56, 92], "nice": false, "zero": false}}}},
{"data": {"values": [{}]}, "mark": {"type": "text", "text": "δ", "font": "DejaVu Serif", "fontStyle": "italic", "fontSize": 24, "align": "left", "baseline": "alphabetic", "color": "black"},
 "encoding": {"x": {"datum": 19.48, "type": "quantitative", "scale": {"domain": [5, 50], "nice": false, "zero": false}}, "y": {"datum": 93.29, "type": "quantitative", "scale": {"domain": [56, 92], "nice": false, "zero": false}}}},
{"data": {"values": [{}]}, "mark": {"type": "text", "text": "B", "fontSize": 26, "align": "left", "baseline": "alphabetic", "color": "black"},
 "encoding": {"x": {"datum": 21.3, "type": "quantitative", "scale": {"domain": [5, 50], "nice": false, "zero": false}}, "y": {"datum": 93.29, "type": "quantitative", "scale": {"domain": [56, 92], "nice": false, "zero": false}}}},
{"data": {"values": [{}]}, "mark": {"type": "text", "text": "g", "fontSize": 19, "align": "left", "baseline": "alphabetic", "color": "black"},
 "encoding": {"x": {"datum": 23.74, "type": "quantitative", "scale": {"domain": [5, 50], "nice": false, "zero": false}}, "y": {"datum": 92.82, "type": "quantitative", "scale": {"domain": [56, 92], "nice": false, "zero": false}}}},
{"data": {"values": [{}]}, "mark": {"type": "text", "text": "Down", "fontSize": 26, "align": "left", "baseline": "alphabetic", "color": "black"},
 "encoding": {"x": {"datum": 26.04, "type": "quantitative", "scale": {"domain": [5, 50], "nice": false, "zero": false}}, "y": {"datum": 93.29, "type": "quantitative", "scale": {"domain": [56, 92], "nice": false, "zero": false}}}}
]
},
{
"width": 71.6, "height": 751, "view": {"stroke": null},
"layer": [
{"data": {"values": [{}]}, "mark": {"type": "rule", "color": "#808080", "strokeWidth": 7.5},
 "encoding": {"x": {"datum": 0, "type": "quantitative", "scale": {"domain": [0, 0.75], "nice": false, "zero": false}}, "x2": {"datum": 0.75}, "y": {"datum": 83.5, "type": "quantitative", "scale": {"domain": [56, 92], "nice": false, "zero": false}}}},
{"data": {"values": [{}]}, "mark": {"type": "rule", "color": "#808080", "strokeWidth": 7.5, "strokeDash": [17, 15.4], "strokeDashOffset": 6.8},
 "encoding": {"x": {"datum": 0, "type": "quantitative", "scale": {"domain": [0, 0.75], "nice": false, "zero": false}}, "x2": {"datum": 0.75}, "y": {"datum": 75, "type": "quantitative", "scale": {"domain": [56, 92], "nice": false, "zero": false}}}},
{"data": {"name": "amp"}, "transform": [{"filter": "datum.p == 'c'"}],
 "mark": {"type": "line", "interpolate": "catmull-rom", "color": "#0072BD", "strokeWidth": 2.5},
 "encoding": {
  "x": {"field": "a", "type": "quantitative", "scale": {"domain": [0, 0.75], "nice": false, "zero": false}, "axis": {"orient": "top", "values": [0, 0.25, 0.5, 0.75], "format": ".2~f", "labelExpr": "datum.value == 0 || datum.value == 0.75 ? datum.label : ''", "tickSize": -7, "labelPadding": 12, "labelFontSize": 15, "labelBaseline": "alphabetic", "title": "Wave Amplitude (nT)", "titleX": 35.8, "titleY": -27.5, "titleBaseline": "alphabetic", "titleAlign": "center"}},
  "y": {"field": "lat", "type": "quantitative", "scale": {"domain": [56, 92], "nice": false, "zero": false}, "axis": {"values": [60,65,70,75,80,85,90], "labels": false, "title": null, "tickSize": -7}},
  "order": {"field": "lat", "type": "quantitative"}}},
{"data": {"name": "amp"}, "transform": [{"filter": "datum.p == 'c'"}],
 "mark": {"type": "point", "filled": true, "size": 28, "color": "#0072BD", "opacity": 1},
 "encoding": {
  "x": {"field": "a", "type": "quantitative", "scale": {"domain": [0, 0.75], "nice": false, "zero": false}},
  "y": {"field": "lat", "type": "quantitative", "scale": {"domain": [56, 92], "nice": false, "zero": false}}}},
{"data": {"name": "at"}, "mark": {"type": "rule", "color": "#262626", "strokeWidth": 1},
 "encoding": {"x": {"field": "a", "type": "quantitative", "scale": {"domain": [0, 0.75], "nice": false, "zero": false}}, "y": {"datum": 56, "type": "quantitative", "scale": {"domain": [56, 92], "nice": false, "zero": false}}, "y2": {"datum": 56.336}}},
{"data": {"name": "yt"}, "mark": {"type": "rule", "color": "#262626", "strokeWidth": 1},
 "encoding": {"y": {"field": "lat", "type": "quantitative", "scale": {"domain": [56, 92], "nice": false, "zero": false}}, "x": {"datum": 0.75, "type": "quantitative", "scale": {"domain": [0, 0.75], "nice": false, "zero": false}}, "x2": {"datum": 0.6767}}},
{"data": {"values": [{}]}, "mark": {"type": "rule", "color": "#262626", "strokeWidth": 1},
 "encoding": {"x": {"datum": 0, "type": "quantitative", "scale": {"domain": [0, 0.75], "nice": false, "zero": false}}, "x2": {"datum": 0.75}, "y": {"datum": 92, "type": "quantitative", "scale": {"domain": [56, 92], "nice": false, "zero": false}}}},
{"data": {"values": [{}]}, "mark": {"type": "rule", "color": "#262626", "strokeWidth": 1},
 "encoding": {"x": {"datum": 0, "type": "quantitative", "scale": {"domain": [0, 0.75], "nice": false, "zero": false}}, "x2": {"datum": 0.75}, "y": {"datum": 56, "type": "quantitative", "scale": {"domain": [56, 92], "nice": false, "zero": false}}}},
{"data": {"values": [{}]}, "mark": {"type": "rule", "color": "#262626", "strokeWidth": 1},
 "encoding": {"x": {"datum": 0.75, "type": "quantitative", "scale": {"domain": [0, 0.75], "nice": false, "zero": false}}}}
]
}
],
"config": {
 "font": "Liberation Sans",
 "view": {"stroke": "#262626", "strokeWidth": 1},
 "axis": {"domain": false, "grid": false, "labelColor": "#262626", "labelFontSize": 16, "tickColor": "#262626", "tickWidth": 1, "titleColor": "#262626", "titleFontSize": 21, "titleFontWeight": "normal", "labelFlush": false, "labelOverlap": false, "labelBound": false}
}
}
